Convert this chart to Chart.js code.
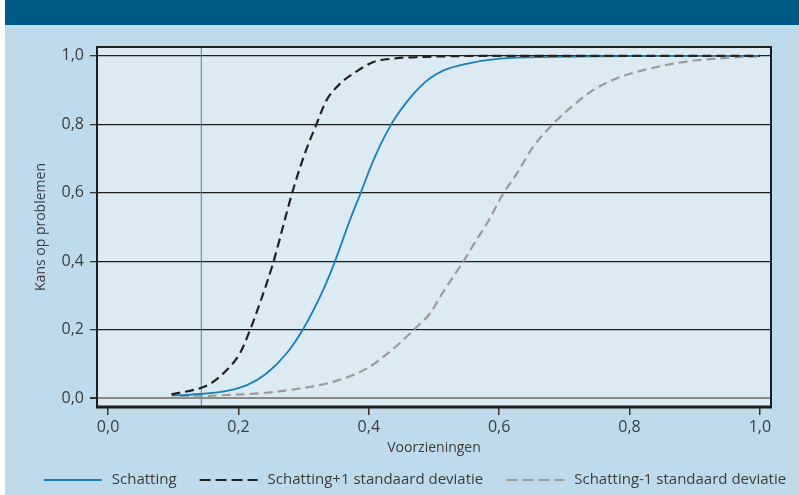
<!DOCTYPE html>
<html>
<head>
<meta charset="utf-8">
<script src="https://cdn.jsdelivr.net/npm/chart.js@4/dist/chart.umd.min.js"></script>
<style>
  html, body { margin: 0; padding: 0; background: #ffffff; }
  #wrap { width: 799px; height: 495px; position: relative; }
  canvas { display: block; }
</style>
</head>
<body>
<div id="wrap"><canvas id="c" width="799" height="495"></canvas></div>
<script>
// ---- data ----
const seriesLabels = ['Schatting', 'Schatting+1 standaard deviatie', 'Schatting-1 standaard deviatie'];

const schattingX = [0.098, 0.141, 0.182, 0.213, 0.243, 0.274, 0.300, 0.330, 0.348, 0.371, 0.387, 0.407, 0.435, 0.458, 0.479, 0.495, 0.514, 0.550, 0.601, 0.683, 0.750, 0.850, 1.000];
const schattingY = [0.007, 0.012, 0.021, 0.038, 0.072, 0.131, 0.204, 0.316, 0.399, 0.520, 0.597, 0.695, 0.802, 0.865, 0.910, 0.936, 0.957, 0.977, 0.992, 0.997, 0.999, 1.000, 1.000];

const plusX = [0.097, 0.141, 0.156, 0.182, 0.202, 0.218, 0.233, 0.254, 0.271, 0.282, 0.300, 0.320, 0.335, 0.356, 0.376, 0.407, 0.437, 0.500, 0.600, 0.800, 1.000];
const plusY = [0.011, 0.029, 0.041, 0.082, 0.130, 0.200, 0.278, 0.400, 0.520, 0.597, 0.705, 0.802, 0.870, 0.919, 0.948, 0.982, 0.992, 0.998, 1.000, 1.000, 1.000];

const minX = [0.110, 0.182, 0.233, 0.294, 0.346, 0.397, 0.438, 0.473, 0.494, 0.514, 0.545, 0.565, 0.583, 0.606, 0.627, 0.652, 0.683, 0.714, 0.744, 0.780, 0.831, 0.893, 0.949, 1.000];
const minY = [0.003, 0.009, 0.014, 0.028, 0.048, 0.087, 0.145, 0.207, 0.248, 0.310, 0.399, 0.462, 0.516, 0.597, 0.656, 0.734, 0.802, 0.856, 0.900, 0.934, 0.963, 0.985, 0.994, 0.999];

const markerX = 0.143;          // vertical reference line
const xTicks = [0, 0.2, 0.4, 0.6, 0.8, 1.0];
const yTicks = [0, 0.2, 0.4, 0.6, 0.8, 1.0];

// ---- styling ----
const C_BLUE = '#1a7fb9';
const C_BLACK = '#222222';
const C_GREY = '#9b9b9b';
const FONT = '"Open Sans", "Liberation Sans", sans-serif';
const TXT = '#3c3c3c';

const pts = (xs, ys) => xs.map((x, i) => ({ x: x, y: ys[i] }));
const fmt = v => Number(v).toFixed(1).replace('.', ',');

const bgPlugin = {
  id: 'bg',
  beforeDraw(chart) {
    const ctx = chart.ctx, a = chart.chartArea;
    ctx.save();
    ctx.fillStyle = '#ffffff';
    ctx.fillRect(0, 0, chart.width, chart.height);
    ctx.fillStyle = '#bfdbeb';
    ctx.fillRect(5, 0, chart.width - 5, chart.height);
    ctx.fillStyle = '#005a87';
    ctx.fillRect(5, 0, chart.width - 5, 25);
    ctx.fillStyle = '#dceaf4';
    ctx.fillRect(a.left, a.top, a.right - a.left, a.bottom - a.top);
    ctx.restore();
  },
  afterDatasetsDraw(chart) {
    const ctx = chart.ctx, a = chart.chartArea;
    ctx.save();
    ctx.strokeStyle = '#1e1e1e';
    ctx.lineWidth = 2;
    ctx.beginPath();
    ctx.moveTo(a.left, a.bottom);
    ctx.lineTo(a.left, a.top);
    ctx.lineTo(a.right, a.top);
    ctx.lineTo(a.right, a.bottom);
    ctx.stroke();
    ctx.lineWidth = 3;
    ctx.beginPath();
    ctx.moveTo(a.left - 1, a.bottom);
    ctx.lineTo(a.right + 1, a.bottom);
    ctx.stroke();
    ctx.restore();
  }
};

const legendPlugin = {
  id: 'customLegend',
  afterDraw(chart) {
    const ctx = chart.ctx;
    ctx.save();
    ctx.font = '15px ' + FONT;
    const items = chart.data.datasets.filter(d => !d.hideInLegend);
    const lineW = 58, gapT = 10, gapI = 23;
    const widths = items.map(d => ctx.measureText(d.label).width);
    let total = widths.reduce((s, w) => s + lineW + gapT + w, 0) + gapI * (items.length - 1);
    let x = 415 - total / 2;
    const y = 480;
    items.forEach((d, i) => {
      ctx.strokeStyle = d.borderColor;
      ctx.lineWidth = 2;
      ctx.setLineDash(d.borderDash ? [11, 5] : []);
      ctx.beginPath();
      ctx.moveTo(x, y);
      ctx.lineTo(x + lineW, y);
      ctx.stroke();
      ctx.setLineDash([]);
      ctx.fillStyle = TXT;
      ctx.textBaseline = 'middle';
      ctx.textAlign = 'left';
      ctx.fillText(d.label, x + lineW + gapT, y);
      x += lineW + gapT + widths[i] + gapI;
    });
    ctx.restore();
  }
};

new Chart(document.getElementById('c'), {
  type: 'line',
  data: {
    datasets: [
      { label: seriesLabels[0], data: pts(schattingX, schattingY), borderColor: C_BLUE, borderWidth: 1.8,
        pointRadius: 0, cubicInterpolationMode: 'monotone', order: 2 },
      { label: seriesLabels[1], data: pts(plusX, plusY), borderColor: C_BLACK, borderWidth: 2.2,
        borderDash: [9, 5], pointRadius: 0, cubicInterpolationMode: 'monotone', order: 1 },
      { label: seriesLabels[2], data: pts(minX, minY), borderColor: C_GREY, borderWidth: 2.2,
        borderDash: [9, 5], pointRadius: 0, cubicInterpolationMode: 'monotone', order: 3 },
      { label: 'marker', hideInLegend: true, data: [{ x: markerX, y: -0.03 }, { x: markerX, y: 1.03 }],
        borderColor: '#2a8cc6', borderWidth: 1, pointRadius: 0, order: 5 }
    ]
  },
  options: {
    responsive: false,
    animation: false,
    layout: { padding: { left: 0, top: 47, right: 28, bottom: 28 } },
    plugins: {
      legend: { display: false },
      tooltip: { enabled: false }
    },
    scales: {
      x: {
        type: 'linear',
        min: -0.017, max: 1.017,
        afterBuildTicks: s => { s.ticks = xTicks.map(v => ({ value: v })); },
        afterFit: s => { s.height = 60; },
        border: { display: false },
        grid: { drawOnChartArea: false, drawTicks: true, tickLength: 8, color: '#333333', lineWidth: 1.5 },
        ticks: { padding: 3, color: TXT, font: { family: FONT, size: 16 }, callback: v => fmt(v), maxRotation: 0 },
        title: { display: true, text: 'Voorzieningen', color: TXT, font: { family: FONT, size: 14 }, padding: { top: 0, bottom: 11 } }
      },
      y: {
        type: 'linear',
        min: -0.026, max: 1.026,
        afterBuildTicks: s => { s.ticks = yTicks.map(v => ({ value: v })); },
        afterFit: s => { s.width = 97; },
        border: { display: false },
        grid: {
          drawTicks: true, tickLength: 7,
          color: c => (c.tick && c.tick.value === 0) ? '#8a8a8a' : '#1e1e1e',
          lineWidth: c => (c.tick && c.tick.value === 0) ? 2 : 1.3,
          tickColor: '#333333'
        },
        ticks: { padding: 6, color: TXT, font: { family: FONT, size: 16 }, callback: v => fmt(v) },
        title: { display: true, text: 'Kans op problemen', color: TXT, font: { family: FONT, size: 14 }, padding: { top: 33, bottom: 0 } }
      }
    }
  },
  plugins: [bgPlugin, legendPlugin]
});
</script>
</body>
</html>
